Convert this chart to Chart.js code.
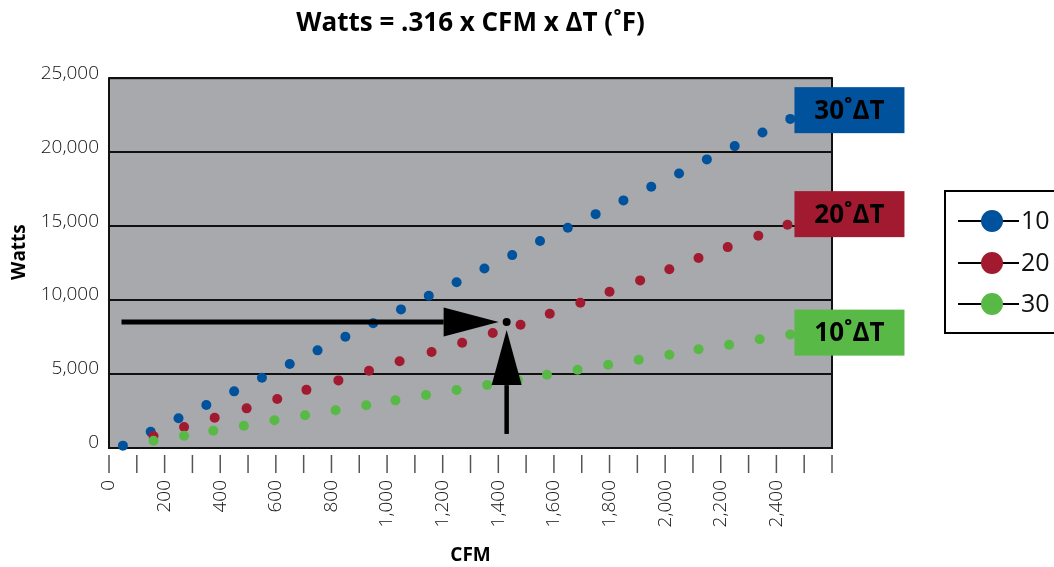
<!DOCTYPE html>
<html>
<head>
<meta charset="utf-8">
<title>Watts = .316 x CFM x ΔT</title>
<script src="https://cdn.jsdelivr.net/npm/chart.js@4.4.1/dist/chart.umd.min.js"></script>
<style>
  html, body { margin: 0; padding: 0; background: #fff; }
  #wrap { width: 1054px; height: 567px; }
</style>
</head>
<body>
<div id="wrap"><canvas id="myChart" width="1054" height="567"></canvas></div>
<script>
// 系列データ（CFM と W）
const blueCfm = [50, 150, 250, 350, 450, 550, 650, 750, 850, 950, 1050, 1150, 1250, 1350, 1450, 1550, 1650, 1750, 1850, 1950, 2050, 2150, 2250, 2350, 2450];
const blueWatts = [160, 1100, 2010, 2910, 3830, 4750, 5680, 6600, 7520, 8430, 9370, 10290, 11200, 12140, 13040, 13990, 14890, 15810, 16740, 17660, 18560, 19510, 20410, 21330, 22250];

const redCfm = [160, 270, 380, 495, 605, 710, 825, 935, 1045, 1160, 1270, 1380, 1480, 1585, 1695, 1800, 1910, 2015, 2120, 2225, 2335, 2440];
const redWatts = [810, 1420, 2050, 2680, 3310, 3930, 4570, 5220, 5860, 6490, 7120, 7770, 8330, 9080, 9820, 10560, 11330, 12080, 12840, 13580, 14350, 15090];

const greenCfm = [160, 270, 375, 485, 595, 705, 815, 925, 1030, 1140, 1250, 1360, 1470, 1575, 1685, 1795, 1905, 2015, 2120, 2230, 2340, 2450];
const greenWatts = [490, 830, 1170, 1500, 1870, 2210, 2550, 2890, 3220, 3580, 3920, 4260, 4600, 4950, 5290, 5630, 5970, 6300, 6670, 6980, 7350, 7680];

// 読み取り例の点
const opCfm = [1430];
const opWatts = [8510];

// 凡例と系列ラベル
const legendLabels = ['10', '20', '30'];
const boxLabels = ['30˚ΔT', '20˚ΔT', '10˚ΔT'];
const boxCfm = 2465;
const boxWatts = [22840, 15810, 7800];

// 目盛り
const xTicks = [0, 100, 200, 300, 400, 500, 600, 700, 800, 900, 1000, 1100, 1200, 1300, 1400, 1500, 1600, 1700, 1800, 1900, 2000, 2100, 2200, 2300, 2400, 2500, 2600];
const xLabelTicks = [0, 200, 400, 600, 800, 1000, 1200, 1400, 1600, 1800, 2000, 2200, 2400];

const BLUE = '#00529c';
const RED = '#a21a2f';
const GREEN = '#58b947';
const colors = [BLUE, RED, GREEN];

Chart.defaults.font.family = "'Open Sans', sans-serif";

function toPoints(xs, ys) {
  return xs.map((x, i) => ({ x: x, y: ys[i] }));
}

function drawArrow(ctx, x1, y1, x2, y2, shaftW, headLen, headHalf) {
  const ang = Math.atan2(y2 - y1, x2 - x1);
  const bx = x2 - Math.cos(ang) * headLen;
  const by = y2 - Math.sin(ang) * headLen;
  ctx.lineWidth = shaftW;
  ctx.beginPath();
  ctx.moveTo(x1, y1);
  ctx.lineTo(bx, by);
  ctx.stroke();
  ctx.beginPath();
  ctx.moveTo(x2, y2);
  ctx.lineTo(bx - Math.sin(ang) * headHalf, by + Math.cos(ang) * headHalf);
  ctx.lineTo(bx + Math.sin(ang) * headHalf, by - Math.cos(ang) * headHalf);
  ctx.closePath();
  ctx.fill();
}

// 背景・枠・目盛り線・矢印・ラベル・凡例
const decorations = {
  id: 'decorations',
  beforeDraw(chart) {
    const { ctx, chartArea: a } = chart;
    ctx.save();
    ctx.fillStyle = '#a7a9ac';
    ctx.fillRect(a.left, a.top, a.width, a.height);
    ctx.restore();
  },
  beforeDatasetsDraw(chart) {
    const { ctx, chartArea: a, scales: { x } } = chart;
    ctx.save();
    ctx.strokeStyle = '#111';
    ctx.lineWidth = 2;
    ctx.strokeRect(a.left, a.top, a.width, a.height);

    ctx.strokeStyle = '#555';
    ctx.lineWidth = 1.5;
    x.ticks.forEach(t => {
      const px = x.getPixelForValue(t.value);
      ctx.beginPath();
      ctx.moveTo(px, a.bottom + 7);
      ctx.lineTo(px, a.bottom + 25);
      ctx.stroke();
    });

    // 縦軸タイトル
    ctx.fillStyle = '#000';
    ctx.font = "bold 19px 'Open Sans', sans-serif";
    ctx.textAlign = 'center';
    ctx.textBaseline = 'middle';
    ctx.translate(20, (a.top + a.bottom) / 2 - 11);
    ctx.rotate(-Math.PI / 2);
    ctx.fillText('Watts', 0, 0);
    ctx.restore();
  },
  afterDatasetsDraw(chart) {
    const { ctx, scales: { x, y } } = chart;
    ctx.save();

    // 矢印
    const px = x.getPixelForValue(opCfm[0]);
    const py = y.getPixelForValue(opWatts[0]);
    ctx.strokeStyle = '#000';
    ctx.fillStyle = '#000';
    drawArrow(ctx, x.getPixelForValue(45), py, px - 8, py, 5, 55, 14.5);
    drawArrow(ctx, px, y.getPixelForValue(950), px, py + 8, 4.5, 55, 15);

    // 系列ラベルの箱
    const bx = x.getPixelForValue(boxCfm);
    ctx.font = "bold 26px 'Open Sans', sans-serif";
    ctx.textAlign = 'center';
    ctx.textBaseline = 'middle';
    boxLabels.forEach((label, i) => {
      const cy = y.getPixelForValue(boxWatts[i]);
      ctx.fillStyle = colors[i];
      ctx.fillRect(bx, cy - 23, 110, 46);
      ctx.fillStyle = '#000';
      ctx.fillText(label, bx + 55, cy + 1);
    });

    // 凡例
    ctx.strokeStyle = '#000';
    ctx.lineWidth = 2;
    ctx.strokeRect(945, 191, 200, 142);
    ctx.font = "25px 'Open Sans', sans-serif";
    ctx.textAlign = 'left';
    const rows = [221, 263, 304];
    legendLabels.forEach((label, i) => {
      const ry = rows[i];
      ctx.strokeStyle = '#000';
      ctx.lineWidth = 2;
      ctx.beginPath();
      ctx.moveTo(958, ry);
      ctx.lineTo(1019, ry);
      ctx.stroke();
      ctx.fillStyle = colors[i];
      ctx.beginPath();
      ctx.arc(992, ry, 11, 0, Math.PI * 2);
      ctx.fill();
      ctx.fillStyle = '#111';
      ctx.fillText(label, 1021, ry + 1);
    });

    ctx.restore();
  }
};

const pointDataset = (label, xs, ys, color, order) => ({
  label: label,
  data: toPoints(xs, ys),
  backgroundColor: color,
  borderColor: color,
  pointRadius: 5,
  pointBorderWidth: 0,
  showLine: false,
  clip: false,
  order: order
});

new Chart(document.getElementById('myChart'), {
  type: 'scatter',
  data: {
    datasets: [
      pointDataset(legendLabels[0], blueCfm, blueWatts, BLUE, 3),
      pointDataset(legendLabels[1], redCfm, redWatts, RED, 2),
      pointDataset(legendLabels[2], greenCfm, greenWatts, GREEN, 1),
      {
        label: 'op',
        data: toPoints(opCfm, opWatts),
        backgroundColor: '#000',
        pointRadius: 4,
        pointBorderWidth: 0,
        clip: false,
        order: 0
      }
    ]
  },
  options: {
    responsive: false,
    animation: false,
    layout: { padding: { left: 0, top: 0, right: 222, bottom: 0 } },
    plugins: {
      legend: { display: false },
      tooltip: { enabled: false },
      title: {
        display: true,
        text: 'Watts = .316 x CFM x ΔT (˚F)',
        fullSize: false,
        color: '#000',
        font: { size: 26, weight: 'bold' },
        padding: { top: 8, bottom: 39 }
      }
    },
    scales: {
      x: {
        type: 'linear',
        min: 0,
        max: 2600,
        afterBuildTicks: s => { s.ticks = xTicks.map(v => ({ value: v })); },
        afterFit: s => { s.height = 119; },
        grid: { display: false, drawTicks: false },
        border: { display: false },
        ticks: {
          autoSkip: false,
          minRotation: 90,
          maxRotation: 90,
          padding: 32,
          color: '#111',
          font: { size: 19, weight: '300' },
          callback: v => xLabelTicks.includes(v) ? v.toLocaleString('en-US') : ''
        },
        title: {
          display: true,
          text: 'CFM',
          color: '#000',
          font: { size: 19, weight: 'bold' },
          padding: { top: 0, bottom: 0 }
        }
      },
      y: {
        min: 0,
        max: 25000,
        afterFit: s => { s.width = 109; },
        grid: { color: '#111', lineWidth: 2, drawTicks: false },
        border: { display: false },
        ticks: {
          stepSize: 5000,
          padding: 10,
          labelOffset: -5,
          color: '#111',
          font: { size: 19, weight: '300' },
          callback: v => v.toLocaleString('en-US')
        }
      }
    }
  },
  plugins: [decorations]
});
</script>
</body>
</html>
